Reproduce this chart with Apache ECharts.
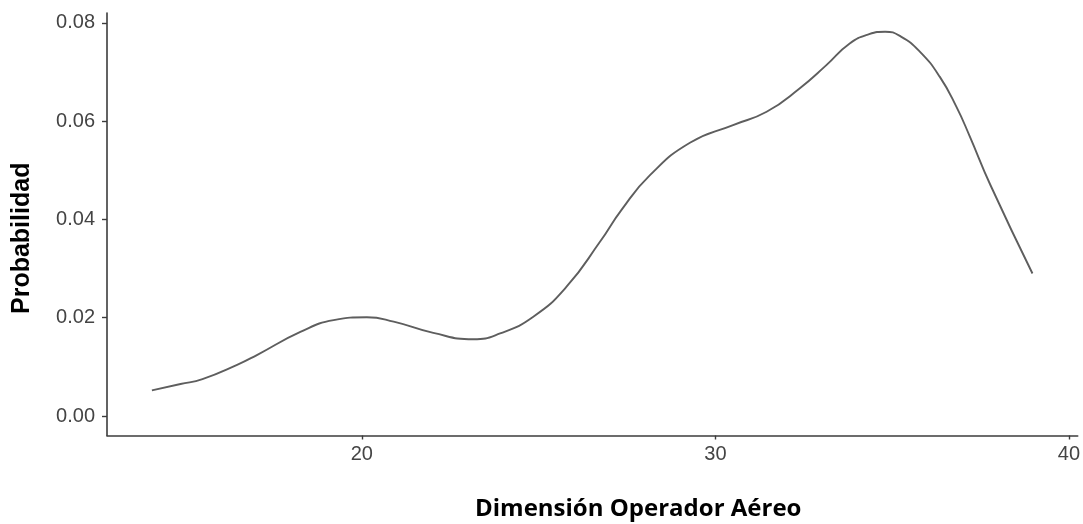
<!DOCTYPE html>
<html>
<head>
<meta charset="utf-8">
<script src="https://cdn.jsdelivr.net/npm/echarts@6/dist/echarts.min.js"></script>
<style>
html,body{margin:0;padding:0;background:#fff;}
#c{width:1083px;height:524px;}
</style>
</head>
<body>
<div id="c"></div>
<script>
// Data
var dimension = [14.06, 14.87, 15.49, 16.47, 17.03, 18.26, 19.2, 20.14, 20.9, 22.02, 23.15, 23.91, 24.85, 25.79, 26.74, 27.35, 28.15, 29.28, 30.5, 31.45, 32.39, 33.14, 33.8, 34.35, 34.8, 35.25, 35.79, 36.35, 36.82, 37.19, 37.78, 38.97];
var probability = [0.0052, 0.0065, 0.0075, 0.0104, 0.0124, 0.0171, 0.0195, 0.0201, 0.0192, 0.0169, 0.0156, 0.0168, 0.0202, 0.0263, 0.0355, 0.0420, 0.0490, 0.0556, 0.0592, 0.0619, 0.0667, 0.0714, 0.0758, 0.0777, 0.0782, 0.0772, 0.0741, 0.0690, 0.0629, 0.0570, 0.0470, 0.0290];
var xTicks = [20, 30, 40];
var yTicks = [0, 0.02, 0.04, 0.06, 0.08];
var xTitle = 'Dimensión Operador Aéreo';
var yTitle = 'Probabilidad';

var points = dimension.map(function (d, i) { return [d, probability[i]]; });

var chart = echarts.init(document.getElementById('c'), null, {renderer: 'canvas'});
chart.setOption({
  animation: false,
  backgroundColor: '#ffffff',
  grid: {left: 107, right: 5, top: 13, bottom: 88.5, containLabel: false},
  xAxis: {
    type: 'value',
    min: 12.79,
    max: 40.25,
    axisLine: {show: true, onZero: false, lineStyle: {color: '#3c3c3c', width: 1.6}},
    axisTick: {show: true, customValues: xTicks, length: 4, lineStyle: {color: '#3c3c3c', width: 1.4}},
    axisLabel: {customValues: xTicks, margin: 9, color: '#444444', fontFamily: 'Liberation Sans, Arial, sans-serif', fontSize: 20},
    splitLine: {show: false}
  },
  yAxis: {
    type: 'value',
    min: -0.00397,
    max: 0.0820,
    axisLine: {show: true, onZero: false, lineStyle: {color: '#3c3c3c', width: 1.6}},
    axisTick: {show: true, customValues: yTicks, length: 5, lineStyle: {color: '#3c3c3c', width: 1.4}},
    axisLabel: {
      customValues: yTicks, margin: 12, color: '#444444',
      fontFamily: 'Liberation Sans, Arial, sans-serif', fontSize: 20,
      formatter: function (v) { return v.toFixed(2); }
    },
    splitLine: {show: false}
  },
  graphic: [
    {
      type: 'text', left: 475, top: 497,
      style: {text: xTitle, fill: '#000', font: 'bold 24px "Open Sans", sans-serif'}
    },
    {
      type: 'text', rotation: Math.PI / 2, x: 10, y: 314,
      style: {text: yTitle, fill: '#000', font: 'bold 25px "Liberation Sans", Arial, sans-serif', textVerticalAlign: 'top'}
    }
  ],
  series: [{
    type: 'line',
    data: points,
    smooth: 0.5,
    showSymbol: false,
    lineStyle: {color: '#5e5e5e', width: 1.9}
  }]
});
</script>
</body>
</html>
